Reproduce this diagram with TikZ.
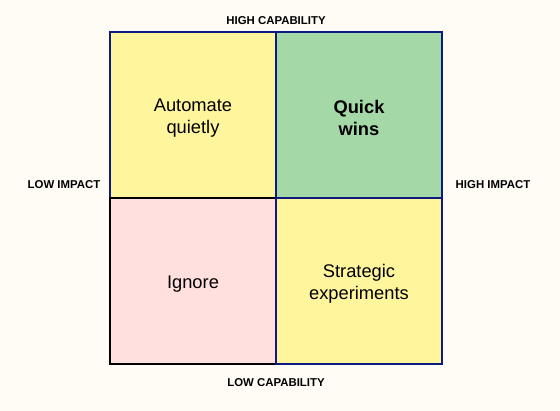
\documentclass[tikz,border=0pt]{standalone}
\usepackage{fontspec}
\setmainfont{Liberation Sans}
\definecolor{bg}{HTML}{FFFCF5}
\definecolor{qyellow}{HTML}{FFF59D}
\definecolor{qgreen}{HTML}{A5D8A7}
\definecolor{qpink}{HTML}{FFE0DE}
\definecolor{navy}{HTML}{0D1A80}
\begin{document}
\begin{tikzpicture}[x=1pt,y=-1pt,
  quad/.style={draw, line width=1.6pt, minimum width=166pt, minimum height=166pt, inner sep=0pt, outer sep=0pt},
  qtext/.style={align=center, font=\fontsize{18.3}{22.5}\selectfont},
  axislabel/.style={font=\fontsize{11.4}{13}\selectfont\bfseries, text=black}]
\fill[bg] (0,0) rectangle (560,411);
\useasboundingbox (0,0) rectangle (560,411);
\node[quad, fill=qyellow, draw=navy] (aq) at (193,115) {};
\node[quad, fill=qpink, draw=black] (ig) at (193,281) {};
\node[quad, fill=qyellow, draw=navy] (se) at (359,281) {};
\node[quad, fill=qgreen, draw=navy, line width=2.6pt] (qw) at (359,115) {};
\node[qtext] (aqt) at ([yshift=-3pt]aq.center) {Automate\\quietly};
\node[qtext] (igt) at ([yshift=-3pt]ig.center) {Ignore};
\node[qtext] (set) at ([yshift=-3pt]se.center) {Strategic\\experiments};
\node[qtext, font=\fontsize{18.3}{22.5}\selectfont\bfseries] (qwt) at ([yshift=-3pt]qw.center) {Quick\\wins};
\node[axislabel] (hc) at (276,21) {HIGH CAPABILITY};
\node[axislabel] (lc) at (276,383) {LOW CAPABILITY};
\node[axislabel] (li) at (64,185) {LOW IMPACT};
\node[axislabel] (hi) at (493,185) {HIGH IMPACT};
\end{tikzpicture}
\end{document}
